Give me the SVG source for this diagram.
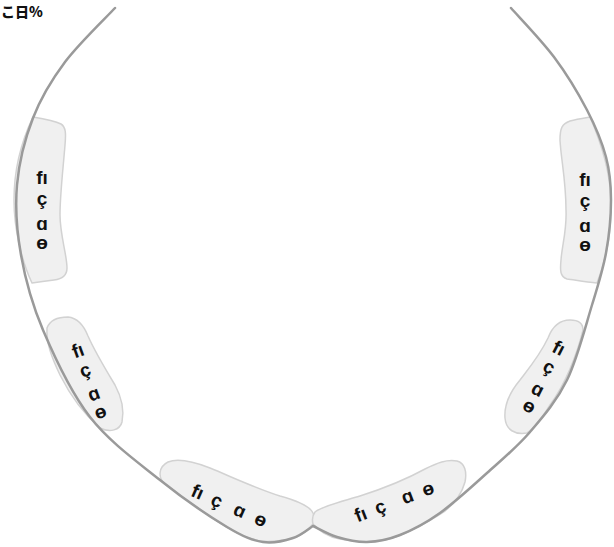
<svg xmlns="http://www.w3.org/2000/svg" width="614" height="547" viewBox="0 0 614 547">
<style>
.blob{fill:#f0f0f0;stroke:#d2d2d2;stroke-width:1.5}
.lbl{font-family:"Liberation Sans","DejaVu Sans",sans-serif;font-size:19px;font-weight:bold;fill:#111;text-anchor:middle}
.conn{fill:none;stroke:#9a9a9a;stroke-width:2.5;stroke-linecap:round}
.title{font-family:"Noto Sans CJK JP","Noto Sans",sans-serif;font-size:14px;font-weight:900;fill:#111}
</style>
<rect width="614" height="547" fill="#fff"/>
<text class="title" x="1" y="17">こ日%</text>
<g id="node-left-top">
<path class="blob" d="M33,117 C45,119 55,121 61,124 C66,127 66,134 65,145 C63,170 60,195 60,215 C60,235 67,255 67,268 C67,276 62,279 54,280 C45,281 38,282 32,283 C22,262 14,230 14,200 C14,170 22,140 33,117 Z"/>
<text class="lbl" transform="translate(42,210)"><tspan x="0" y="-26">fı</tspan><tspan x="0" y="-5">ç</tspan><tspan x="0" y="20">ɑ</tspan><tspan x="0" y="39">ɵ</tspan></text>
</g>
<g id="node-right-top">
<path class="blob" d="M590,117 C600,140 610,170 611,200 C612,235 606,260 597,283 C585,282 575,280 567,279 C560,277 560,270 561,260 C562,245 567,230 566,210 C566,180 561,160 560,140 C560,128 562,124 570,121 C577,119 584,118 590,117 Z"/>
<text class="lbl" transform="translate(585,212)"><tspan x="0" y="-26">fı</tspan><tspan x="0" y="-5">ç</tspan><tspan x="0" y="20">ɑ</tspan><tspan x="0" y="39">ɵ</tspan></text>
</g>
<g id="node-left-lower">
<path class="blob" d="M47,328 C50,320 58,317 68,317 C78,318 84,326 88,336 C95,352 106,370 115,385 C122,398 124,412 122,422 C120,430 110,433 100,428 C85,415 70,395 60,375 C52,358 46,343 47,328 Z"/>
<text class="lbl" transform="translate(89,381) rotate(-20)"><tspan x="0" y="-26">fı</tspan><tspan x="0" y="-5">ç</tspan><tspan x="0" y="20">ɑ</tspan><tspan x="0" y="39">ɵ</tspan></text>
</g>
<g id="node-right-lower">
<path class="blob" d="M583,330 C577,355 565,385 550,405 C542,418 535,428 527,433 C515,435 506,430 505,418 C504,405 510,392 520,380 C530,367 540,355 548,338 C553,325 560,320 570,320 C578,320 583,323 583,330 Z"/>
<text class="lbl" transform="translate(544,377) rotate(27)"><tspan x="0" y="-26">fı</tspan><tspan x="0" y="-5">ç</tspan><tspan x="0" y="20">ɑ</tspan><tspan x="0" y="39">ɵ</tspan></text>
</g>
<g id="node-bottom-left">
<path class="blob" d="M313,524 C308,530 300,537 290,539 C280,541 270,542 260,541 C245,538 230,530 215,520 C195,506 178,494 165,484 C158,478 158,467 168,462 C178,458 192,461 210,468 C232,477 255,488 280,496 C298,501 310,506 313,513 C315,517 315,521 313,524 Z"/>
<text class="lbl" transform="translate(229,505) rotate(23.5)"><tspan x="-34" y="7">fı</tspan><tspan x="-13" y="7">ç</tspan><tspan x="12" y="7">ɑ</tspan><tspan x="35" y="7">ɵ</tspan></text>
</g>
<g id="node-bottom-right">
<path class="blob" d="M313,524 C318,530 328,537 340,539 C355,542 370,543 385,540 C405,535 425,524 445,511 C455,503 462,493 465,482 C467,472 465,463 457,461 C447,459 437,463 425,469 C405,480 385,488 360,496 C340,502 322,506 315,512 C312,516 312,520 313,524 Z"/>
<text class="lbl" transform="translate(394,501) rotate(-21)"><tspan x="-36" y="7">fı</tspan><tspan x="-15" y="7">ç</tspan><tspan x="14" y="7">ɑ</tspan><tspan x="36" y="7">ɵ</tspan></text>
</g>
<g id="connectors">
<path class="conn" d="M115,8 C106.7,17 78.7,43.7 65,62 C51.3,80.3 41,97.5 33,118 C25,138.5 19,162.2 17,185 C15,207.8 16.7,230.8 21,255 C25.3,279.2 31.5,303 43,330 C54.5,357 70.5,392 90,417 C109.5,442 137.2,461.7 160,480 C182.8,498.3 209.8,516.7 227,527 C244.2,537.3 252,540.2 263,542 C274,543.8 284.7,540.7 293,538 C301.3,535.3 309.7,528 313,526"/>
<path class="conn" d="M511,8 C518.2,16.2 541.3,40 554,57 C566.7,74 578.3,93.3 587,110 C595.7,126.7 602,142 606,157 C610,172 611,184 611,200 C611,216 609.2,235.5 606,253 C602.8,270.5 598.5,283.8 592,305 C585.5,326.2 577.3,358.8 567,380 C556.7,401.2 543.3,416.5 530,432 C516.7,447.5 502,459.5 487,473 C472,486.5 454.5,502.7 440,513 C425.5,523.3 412.2,530.2 400,535 C387.8,539.8 377.5,541.7 367,542 C356.5,542.3 346,539.7 337,537 C328,534.3 317,527.8 313,526"/>
</g>
</svg>
